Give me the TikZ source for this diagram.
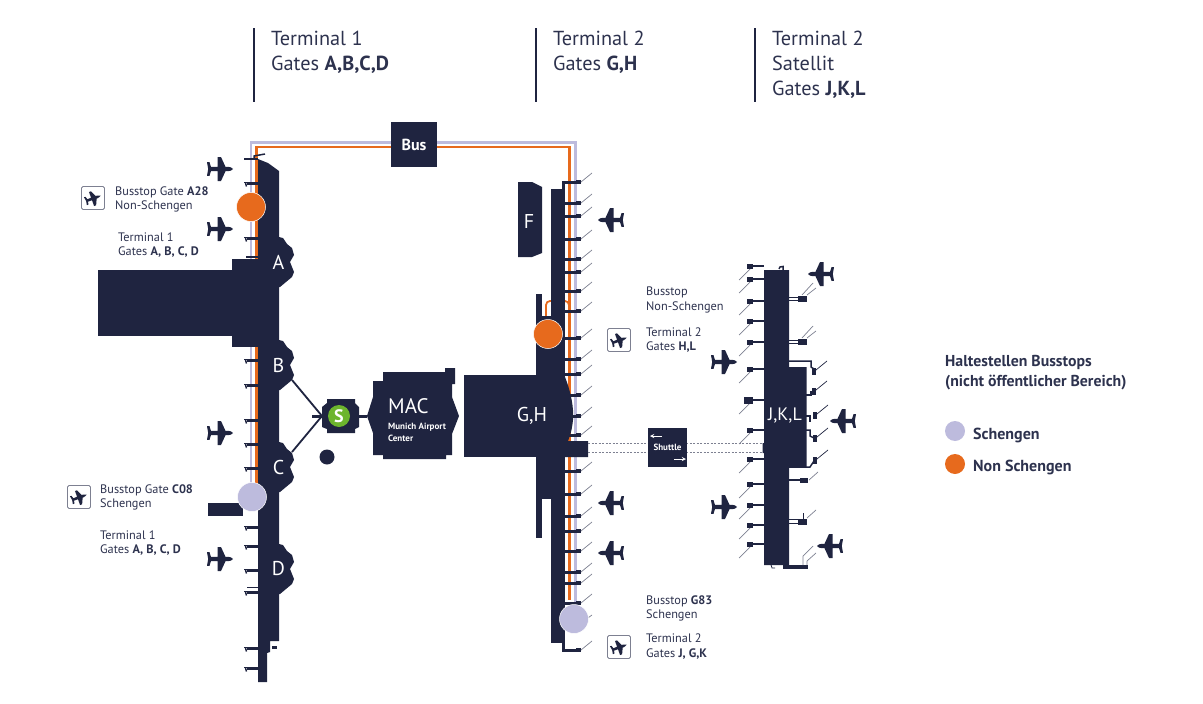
\documentclass[tikz,border=0pt]{standalone}
\usepackage{fontspec}
\setmainfont{PT Sans}
\usetikzlibrary{arrows,positioning,calc}

\definecolor{flughnavy}{RGB}{31,36,64}
\definecolor{flughtext}{RGB}{45,50,78}
\definecolor{flughorange}{RGB}{231,106,29}
\definecolor{flughlav}{RGB}{189,187,221}
\definecolor{flughgreen}{RGB}{108,181,45}
\definecolor{flughgray}{RGB}{125,128,145}

\tikzset{
  bld/.style={fill=flughnavy},
  lbl/.style={anchor=west, align=left, text=flughtext, inner sep=0pt, font=\fontsize{12.3}{14.5}\selectfont},
  headlbl/.style={anchor=west, align=left, text=flughtext, inner sep=0pt, font=\fontsize{20.3}{25}\selectfont},
  gateletter/.style={text=white, inner sep=0pt, font=\fontsize{20}{22}\selectfont},
  headbar/.style={draw=flughnavy, line width=2.8pt},
  gatebar/.style={draw=flughnavy, line width=3pt},
  gatethin/.style={draw=flughnavy, line width=1.5pt},
  finger/.style={draw=flughgray, line width=0.7pt},
  stoporange/.style={circle, fill=flughorange, draw=white, line width=0.5pt, minimum size=29pt, inner sep=0pt},
  stoplav/.style={circle, fill=flughlav, draw=white, line width=0.5pt, minimum size=29pt, inner sep=0pt},
  planepic/.pic={
    \fill[flughnavy] (13,0) .. controls (12,-1.5) and (10,-2.2) .. (8,-2.2) -- (5.5,-2.2) -- (1,-12) -- (-2.5,-12) -- (-2.5,-2.2) -- (-9,-2) -- (-10.5,-6.8) -- (-13,-6.8) -- (-11.8,0)
      -- (-13,6.8) -- (-10.5,6.8) -- (-9,2) -- (-2.5,2.2) -- (-2.5,12) -- (1,12) -- (5.5,2.2) -- (8,2.2) .. controls (10,2.2) and (12,1.5) .. (13,0) -- cycle;
  },
  iconpic/.pic={
    \draw[draw=flughgray, fill=white, line width=0.9pt, rounded corners=1.5pt] (-11.5,-11.5) rectangle (11.5,11.5);
    \pic[rotate=20, scale=0.62] at (0,0.5) {planepic};
  },
}

\begin{document}
\begin{tikzpicture}[x=1pt, y=-1pt]
  \useasboundingbox (0,0) rectangle (1203,704);

  % Header bars and titles
  \foreach \x in {254,536,755} {
    \draw[headbar] (\x,28) -- (\x,102);
  }
  \node[headlbl] (headT1) at (271,52) {Terminal 1\\Gates \textbf{A,B,C,D}};
  \node[headlbl] (headT2) at (553,52) {Terminal 2\\Gates \textbf{G,H}};
  \node[headlbl] (headSat) at (772,64.5) {Terminal 2\\Satellit\\Gates \textbf{J,K,L}};

  % Bus lines
  \coordinate (lavL) at (251,485);
  \coordinate (oraL) at (256.5,485);
  \coordinate (lavR) at (575.5,610);
  \coordinate (oraR) at (569.5,600);
  \draw[draw=flughlav, line width=2.4pt] (lavL) |- (413,142.5) -| (lavR);
  \draw[draw=flughorange, line width=2.6pt] (oraL) |- (413,147) -| (oraR);
  \draw[draw=flughorange, line width=1.8pt, rounded corners=4pt] (546,320) -- (546,301) -- (569,301) -- (569,312);

  % Gates terminal 1
  \foreach \y in {183,207,238,360,385,420,444,468,527,546,570,592,648,668} {
    \draw[gatebar] (258,\y) -- (247,\y);
    \draw[gatethin] (248,\y-0.5) -- (244,\y-0.5);
    \draw[gatethin] (245.5,\y) -- (246.5,\y+3.5);
  }
  \draw[gatethin] (258,159) -- (244,159);
  \draw[gatethin] (254,159) -- (254,156) -- (265,154);
  \draw[gatethin] (258,257) -- (246,257);
  \draw[gatethin] (258,587.5) -- (247,587.5);

  % Pier terminal 1
  \fill[bld] (258,159) -- (268,163) -- (279,171) -- (279,641) -- (270,641) -- (270,652) -- (267,653) -- (267,682) -- (258,682) -- cycle;
  \fill[bld] (98,270) rectangle (232,336);
  \fill[bld] (232,259) rectangle (279,347);
  \fill[bld] (208,503) rectangle (243,516);
  \fill[bld] (272,646) rectangle (277,648.5);
  \foreach \y/\nm in {237/A,340/B,442/C,544/D} {
    \begin{scope}[shift={(0,\y)}]
      \fill[bld] (279,0) -- (283,1) -- (287,7) -- (292,11) -- (294,18) -- (290,25) -- (294,35) -- (292,40) -- (280,50) -- (279,50) -- cycle;
      \node[gateletter] (pod\nm) at (278.5,25) {\nm};
    \end{scope}
  }

  % S-Bahn and MAC
  \coordinate (linkB) at (292,380);
  \coordinate (linkC) at (292,452);
  \fill[bld] (327,399) -- (355,399) -- (355,403) -- (359,407) -- (359,427) -- (355,429) -- (355,433) -- (327,433) -- (327,429) -- (322,427) -- (322,407) -- (327,403) -- cycle;
  \coordinate (sbahnW) at (322,416);
  \coordinate (sbahnE) at (367,416);
  \draw[gatethin, line width=1.8pt] (linkB) -- (sbahnW) -- (linkC);
  \draw[gatebar] (312,416) -- (sbahnW);
  \draw[gatebar] (359,416) -- (sbahnE);
  \node[circle, fill=flughgreen, minimum size=22pt, inner sep=0pt, text=white, font=\fontsize{18}{18}\selectfont\bfseries] (sbahn) at (339,416) {S};
  \node[circle, fill=flughnavy, minimum size=15pt, inner sep=0pt] (sbahnDot) at (327,457) {};
  \fill[bld] (383,372) -- (445,372) -- (445,368) -- (455,368) -- (455,384) -- (452,384) -- (452,397) -- (459,416) -- (452,434) -- (452,455) -- (446,455) -- (446,459) -- (383,459) -- (383,455) -- (373,455) -- (373,433) -- (367,416) -- (373,397) -- (373,381) -- (383,381) -- cycle;
  \node[text=white, anchor=west, inner sep=0pt, font=\fontsize{21}{22}\selectfont] (macName) at (388,406) {MAC};
  \node[text=white, anchor=west, align=left, inner sep=0pt, font=\fontsize{9}{12}\selectfont\bfseries] (macLong) at (388,432) {Munich Airport\\Center};

  % Gates terminal 2
  \foreach \y in {182,203,216,239,259,272,291,311,338,359,374,395,416,435,471,494,516,531,551,572,583,603,650} {
    \draw[gatebar] (565,\y) -- (578,\y);
    \draw[headbar, line width=4.6pt] (576,\y) -- (581,\y);
    \draw[finger] (581,\y) -- (592,\y-9);
  }
  \draw[finger] (581,623) -- (592,615);
  \draw[gatebar] (563,181) -- (563,189);
  \draw[gatebar] (563,640) -- (563,650) -- (572,650);

  % Pier terminal 2
  \fill[bld] (551,189) rectangle (565,643);
  \fill[bld] (535.5,294) rectangle (542,320);
  \fill[bld] (535.5,316) rectangle (565,499);
  \fill[bld] (535.5,490) rectangle (542,538);
  \fill[bld] (464,375) rectangle (540,457);
  \fill[bld] (565,377) .. controls (571,392) and (574,408) .. (573,420) .. controls (572,430) and (570,436) .. (568,441) -- (588,441) -- (588,457) -- (565,457) -- cycle;
  \fill[bld] (518,182) -- (532,182) -- (542,187) -- (542,253) -- (532,257) -- (518,257) -- cycle;
  \node[gateletter] (gateF) at (529,221) {F};
  \node[gateletter] (gateGH) at (532,416) {G,H};

  % Shuttle
  \draw[draw=flughgray, line width=0.5pt, dash pattern=on 2pt off 1.5pt] (588,443) -- (764,443);
  \draw[draw=flughgray, line width=0.5pt, dash pattern=on 2pt off 1.5pt] (588,452) -- (764,452);
  \node[fill=flughnavy, minimum width=39pt, minimum height=39pt, inner sep=0pt, text=white, font=\fontsize{9}{9}\selectfont\bfseries] (shuttle) at (667.5,447.5) {Shuttle};
  \draw[->, >=stealth, white, line width=0.9pt] (662,436) -- (650,436);
  \draw[->, >=stealth, white, line width=0.9pt] (674,459) -- (686,459);

  % Gates satellite west side
  \foreach \y in {266,279,301,321,342,369,400,430,459,484,505,525,544} {
    \draw[gatethin] (764,\y) -- (750,\y);
    \fill[bld] (746.5,\y-2.5) rectangle (753,\y+2.5);
    \draw[finger] (750,\y+3) -- (739,\y+14);
  }
  \fill[bld] (744,397) rectangle (753,404);

  % Gates satellite east side
  \foreach \y in {299,342} {
    \draw[gatethin, line width=1pt] (789,\y-1.5) -- (798,\y-1.5);
    \draw[gatethin, line width=1pt] (789,\y+1.5) -- (798,\y+1.5);
    \fill[bld] (798,\y-3) rectangle (807,\y+3);
    \draw[finger] (802,\y-4) -- (813,\y-16);
    \draw[finger] (807,\y-4) -- (816,\y-11);
  }
  \draw[gatethin] (789,361) -- (811,361) -- (811,367) -- (814,369);
  \draw[gatethin] (806,395) -- (811,395) -- (811,391);
  \draw[gatethin] (806,416) -- (810,416) -- (810,422);
  \draw[gatethin] (806,430) -- (810,430) -- (810,436) -- (814,438);
  \draw[gatethin] (789,467) -- (810,467) -- (814,461);
  \foreach \x/\y in {814/371,814/391,815/415,815/438,815/460} {
    \fill[bld] (\x-2,\y-3.5) rectangle (\x+2,\y+3.5);
    \draw[finger, draw=flughnavy] (\x+2,\y-1) -- (\x+13,\y-10);
  }
  \draw[gatethin] (789,480) -- (800,480);
  \fill[bld] (800,477.5) rectangle (808,482.5);
  \draw[finger] (809,480) -- (818,472);
  \draw[gatethin, line width=1pt] (789,519) -- (798,519);
  \draw[gatethin, line width=1pt] (789,523) -- (798,523);
  \fill[bld] (798,519) rectangle (807,524.5);
  \draw[gatethin, line width=0.7pt] (803,513) -- (803,519);
  \draw[finger] (807,518) -- (816,510);
  \fill[bld] (783,565) rectangle (808,569);
  \draw[finger] (803,565) -- (803,556) -- (813,546);
  \draw[finger] (807,565) -- (807,561) -- (816,553);
  \draw[gatethin, line width=0.8pt] (771,565) -- (772,568) -- (775,568);
  \draw[gatethin] (779,269) -- (780,267) -- (783,266.5) -- (783,270);

  % Pier satellite
  \fill[bld] (764,270) -- (789,270) -- (789,367) -- (806.5,367) -- (806.5,467) -- (789,467) -- (789,565) -- (764,565) -- (764,453) -- (762.5,453) -- (762.5,443) -- (764,443) -- cycle;
  \node[gateletter, font=\fontsize{18}{20}\selectfont] (gateJKL) at (785,416) {J,K,L};

  % Bus box
  \node[fill=flughnavy, minimum width=46pt, minimum height=45pt, inner sep=0pt, text=white, font=\fontsize{16}{17}\selectfont\bfseries] (bus) at (414,144.5) {Bus};

  % Bus stops
  \node[stoporange] (stopA) at (251,207) {};
  \node[stoplav] (stopC) at (252,497) {};
  \node[stoporange] (stopH) at (548,334) {};
  \node[stoplav] (stopG) at (574,619) {};

  % Planes
  \foreach \x/\y in {220/169,220/229,220/433,220/559,724/362,724/507} {
    \pic at (\x,\y) {planepic};
  }
  \foreach \x/\y in {611/220,611/503,611/553,821/274,843/421,830/546} {
    \pic[rotate=180] at (\x,\y) {planepic};
  }

  % Departure icons
  \foreach \x/\y in {93/198,79/497,619/340,619/647} {
    \pic at (\x,\y) {iconpic};
  }

  % Labels
  \node[lbl] (lblA) at (115,199.5) {Busstop Gate \textbf{A28}\\Non-Schengen};
  \node[lbl] (lblAt) at (118,245) {Terminal 1\\Gates \textbf{A, B, C, D}};
  \node[lbl] (lblC) at (100,497.5) {Busstop Gate \textbf{C08}\\Schengen};
  \node[lbl] (lblCt) at (100,543) {Terminal 1\\Gates \textbf{A, B, C, D}};
  \node[lbl] (lblH) at (646,300) {Busstop\\Non-Schengen};
  \node[lbl] (lblHt) at (646,340) {Terminal 2\\Gates \textbf{H,L}};
  \node[lbl] (lblG) at (646,608.5) {Busstop \textbf{G83}\\Schengen};
  \node[lbl] (lblGt) at (646,646.5) {Terminal 2\\Gates \textbf{J, G,K}};

  % Legend
  \node[lbl, font=\fontsize{15.8}{20}\selectfont\bfseries] (legHead) at (945,372.5) {Haltestellen Busstops\\(nicht öffentlicher Bereich)};
  \node[circle, fill=flughlav, minimum size=20pt, inner sep=0pt] (legLav) at (955,431) {};
  \node[circle, fill=flughorange, minimum size=20pt, inner sep=0pt] (legOra) at (955,464) {};
  \node[lbl, font=\fontsize{16}{17}\selectfont\bfseries] (legLavTxt) at (973,435) {Schengen};
  \node[lbl, font=\fontsize{16}{17}\selectfont\bfseries] (legOraTxt) at (973,467) {Non Schengen};
\end{tikzpicture}
\end{document}
